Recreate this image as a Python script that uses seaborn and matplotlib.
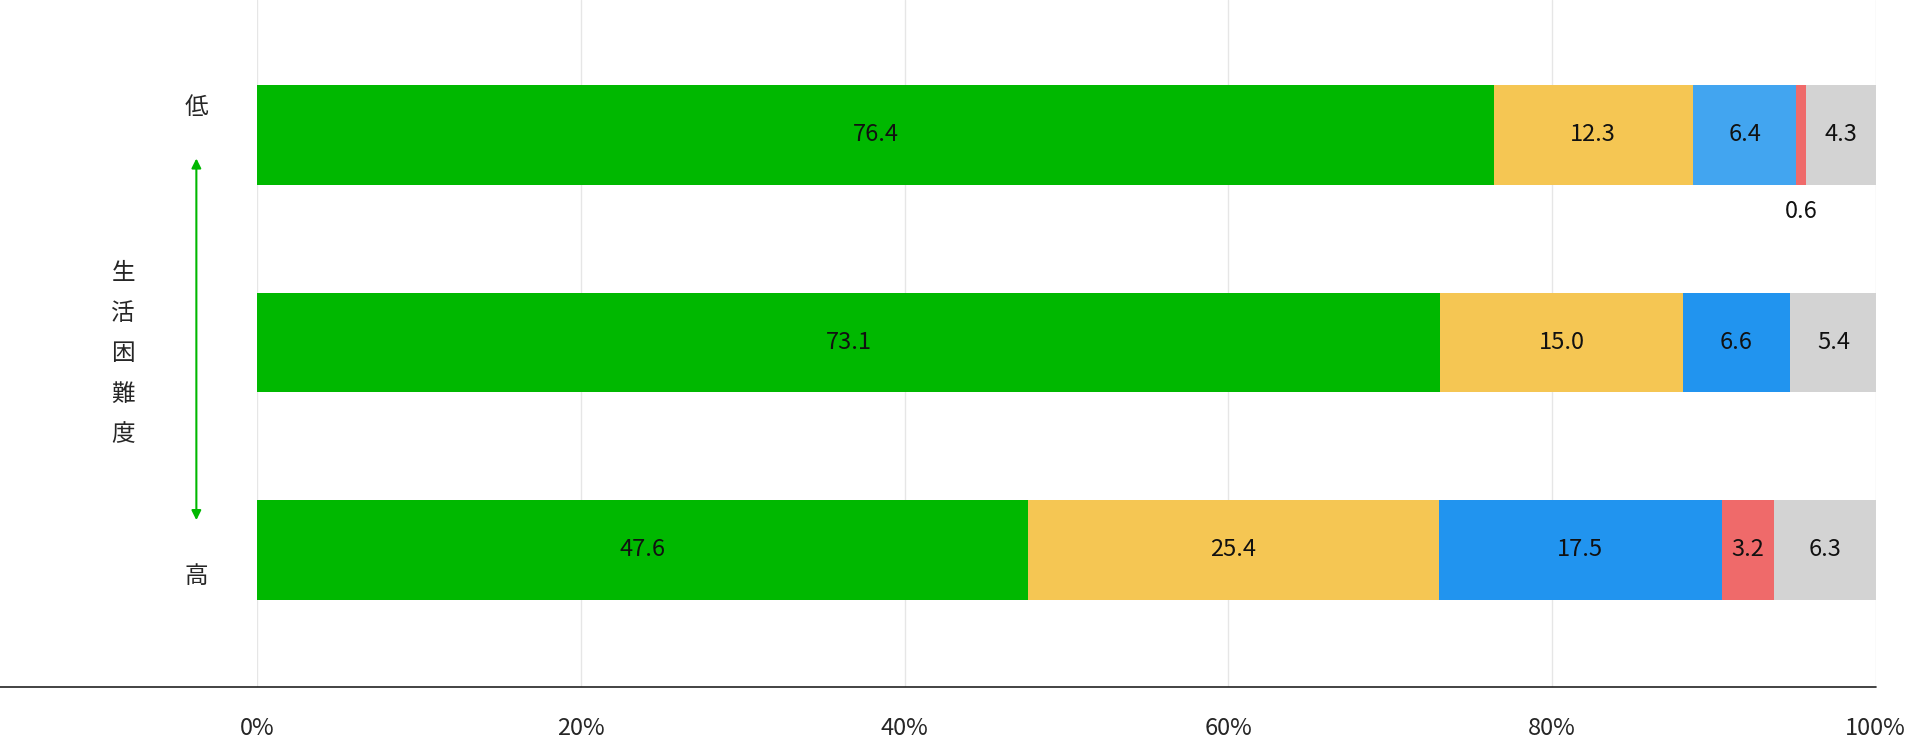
import numpy as np
import pandas as pd
import matplotlib
matplotlib.use('Agg')
import matplotlib.pyplot as plt
import seaborn as sns

rows = ['低', '中', '高']
segments = ['s1', 's2', 's3', 's4', 's5']
values = {
    's1': [76.4, 73.1, 47.6],
    's2': [12.3, 15.0, 25.4],
    's3': [6.4, 6.6, 17.5],
    's4': [0.6, 0.0, 3.2],
    's5': [4.3, 5.4, 6.3],
}
colors = {
    's1': ['#00b800'] * 3,
    's2': ['#f5c653'] * 3,
    's3': ['#42a5f0', '#2194ef', '#2194ef'],
    's4': ['#ef6a6a'] * 3,
    's5': ['#d3d3d3'] * 3,
}

sns.set_theme(style='white')
plt.rcParams['font.family'] = ['Noto Sans CJK JP', 'DejaVu Sans']

fig = plt.figure(figsize=(19.12, 7.54), dpi=100)
ax = fig.add_axes([0.1346, 0.089, 0.8464, 0.911])

cum = np.cumsum([values[s] for s in segments], axis=0)
df = pd.DataFrame({'row': rows})
for i in reversed(range(len(segments))):
    df['total'] = cum[i]
    sns.barplot(data=df, x='total', y='row', hue='row', palette=colors[segments[i]],
                orient='h', width=0.48, ax=ax, legend=False, saturation=1, linewidth=0)

for r in range(3):
    left = 0
    for s in segments:
        v = values[s][r]
        if v > 0:
            if v >= 1:
                ax.text(left + v / 2, r, f'{v:.1f}', ha='center', va='center', fontsize=17, color='#111111')
            else:
                ax.text(left + v / 2, r + 0.37, f'{v:.1f}', ha='center', va='center', fontsize=17, color='#111111')
        left += v

ax.set_xlim(0, 100)
ax.set_ylim(2.66, -0.65)
ax.set_xticks(np.arange(0, 101, 20))
ax.set_xticklabels([f'{t}%' for t in range(0, 101, 20)], fontsize=17)
ax.tick_params(axis='x', pad=22, length=0)
ax.set_yticks([])
ax.set_xlabel('')
ax.set_ylabel('')
ax.grid(axis='x', color='#e6e6e6', linewidth=1)
ax.set_axisbelow(True)
for sp in ax.spines.values():
    sp.set_visible(False)

# bottom rule spanning full width
fig.add_artist(plt.Line2D([0, 0.981], [0.089, 0.089], color='#222222', linewidth=1.2))

# left difficulty annotation
fig.text(0.1027, 1 - 88 / 620, '低', ha='center', va='center', fontsize=17)
fig.text(0.1027, 1 - 474 / 620, '高', ha='center', va='center', fontsize=17)
fig.add_artist(matplotlib.patches.FancyArrowPatch((0.1027, 1 - 128 / 620), (0.1027, 1 - 430 / 620),
               arrowstyle='<|-|>', mutation_scale=14, color='#00b800', linewidth=1.5,
               transform=fig.transFigure))
for k, ch in enumerate('生活困難度'):
    fig.text(0.0644, 1 - (225 + k * 33) / 620, ch, ha='center', va='center', fontsize=17)

fig.savefig('out.png', dpi=100)
